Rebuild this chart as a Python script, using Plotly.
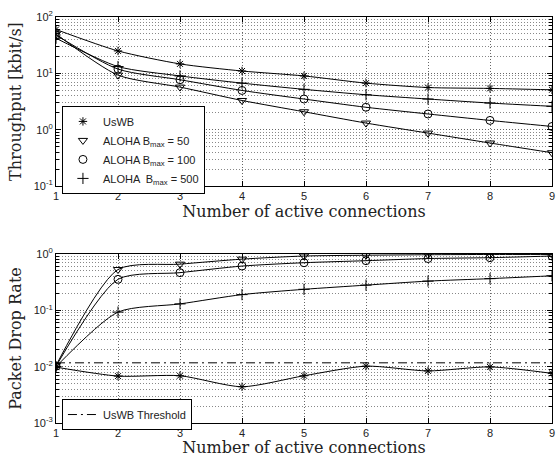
import plotly.graph_objects as go

connections = [1, 2, 3, 4, 5, 6, 7, 8, 9]

# Throughput [kbit/s]
thr_uswb = [60, 25, 14.7, 11, 9.0, 6.7, 5.6, 5.4, 5.1]
thr_aloha50 = [50, 9.3, 5.7, 3.3, 2.08, 1.31, 0.87, 0.58, 0.39]
thr_aloha100 = [48, 11.9, 7.7, 4.97, 3.5, 2.5, 1.9, 1.46, 1.14]
thr_aloha500 = [42, 13.2, 9.0, 6.7, 5.2, 4.17, 3.5, 2.97, 2.6]

# Packet drop rate
pdr_uswb = [0.0098, 0.0068, 0.0069, 0.0044, 0.0069, 0.0102, 0.0084, 0.0099, 0.0076]
pdr_aloha50 = [0.0105, 0.53, 0.66, 0.81, 0.92, 0.95, 0.97, 0.98, 0.98]
pdr_aloha100 = [0.0102, 0.355, 0.466, 0.61, 0.70, 0.76, 0.83, 0.86, 0.92]
pdr_aloha500 = [0.0100, 0.093, 0.13, 0.19, 0.236, 0.28, 0.33, 0.365, 0.41]
uswb_threshold = 0.0117

names = ["UsWB", "ALOHA B<sub>max</sub> = 50", "ALOHA B<sub>max</sub> = 100", "ALOHA  B<sub>max</sub> = 500"]
symbols = ["asterisk-open", "triangle-down-open", "circle-open", "cross-thin-open"]
sizes = [7, 8, 8, 8]

top_tickvals = [0.1, 1, 10, 100]
top_ticktext = ["10<sup>-1</sup>", "10<sup>0</sup>", "10<sup>1</sup>", "10<sup>2</sup>"]
bot_tickvals = [0.001, 0.01, 0.1, 1]
bot_ticktext = ["10<sup>-3</sup>", "10<sup>-2</sup>", "10<sup>-1</sup>", "10<sup>0</sup>"]

TXT = "#222"
fig = go.Figure()

def add_series(x, y, name, sym, size, xa, ya, legend, showleg):
    fig.add_trace(go.Scatter(x=x, y=y, mode="lines", line=dict(color="black", width=1, shape="spline", smoothing=0.7),
                             xaxis=xa, yaxis=ya, showlegend=False, hoverinfo="skip"))
    fig.add_trace(go.Scatter(x=x, y=y, mode="markers", name=name,
                             marker=dict(symbol=sym, size=size, color="black", line=dict(color="black", width=1)),
                             xaxis=xa, yaxis=ya, showlegend=showleg, legend=legend))

top = [thr_uswb, thr_aloha50, thr_aloha100, thr_aloha500]
bot = [pdr_uswb, pdr_aloha50, pdr_aloha100, pdr_aloha500]
for i in range(4):
    add_series(connections, top[i], names[i], symbols[i], sizes[i], "x", "y", "legend", True)
for i in range(4):
    add_series(connections, bot[i], names[i], symbols[i], sizes[i], "x2", "y2", "legend2", False)

fig.add_trace(go.Scatter(x=[connections[0], connections[-1]], y=[uswb_threshold, uswb_threshold], mode="lines",
                         name="UsWB Threshold", line=dict(color="black", width=1, dash="9px,4px,2px,4px"),
                         xaxis="x2", yaxis="y2", legend="legend2"))

DOT = "1px,2px"
xcommon = dict(range=[1, 9], dtick=1, tick0=1, ticks="inside", ticklen=5, tickcolor="black",
               showline=True, linecolor="black", linewidth=1, mirror="allticks", zeroline=False,
               showgrid=True, gridcolor="#666", griddash=DOT, gridwidth=1, ticklabeloverflow="allow",
               tickfont=dict(family="Liberation Sans", size=11, color=TXT))

def ycommon(tv, tt):
    minor_vals = [m * v for v in tv[:-1] for m in range(2, 10)]
    return dict(type="log", tickmode="array", tickvals=tv, ticktext=tt, ticks="inside", ticklen=5, tickcolor="black",
                showline=True, linecolor="black", linewidth=1, mirror="allticks", zeroline=False,
                showgrid=True, gridcolor="#666", griddash=DOT, gridwidth=1, ticklabeloverflow="allow",
                tickfont=dict(family="Liberation Sans", size=11, color=TXT),
                minor=dict(tickmode="array", tickvals=minor_vals, showgrid=True, gridcolor="#888", griddash=DOT,
                           ticks="inside", ticklen=3, tickcolor="black"))

titlefont = dict(family="DejaVu Serif", size=16, color=TXT)

fig.update_layout(
    width=558, height=457,
    margin=dict(l=56, r=3, t=17, b=34),
    paper_bgcolor="white", plot_bgcolor="white",
    xaxis=dict(domain=[0, 1], anchor="y", title=dict(text="Number of active connections", font=titlefont, standoff=1), **xcommon),
    yaxis=dict(domain=[0.5837, 1], anchor="x", range=[-1, 2], title=dict(text="Throughput [kbit/s]", font=titlefont, standoff=8),
               **ycommon(top_tickvals, top_ticktext)),
    xaxis2=dict(domain=[0, 1], anchor="y2", title=dict(text="Number of active connections", font=titlefont, standoff=1), **xcommon),
    yaxis2=dict(domain=[0, 0.4163], anchor="x2", range=[-3, 0], title=dict(text="Packet Drop Rate", font=titlefont, standoff=8),
                **ycommon(bot_tickvals, bot_ticktext)),
    legend=dict(x=0.012, y=0.781, xanchor="left", yanchor="top", bgcolor="white", bordercolor="black", borderwidth=1,
                font=dict(family="Liberation Sans", size=11, color=TXT), tracegroupgap=0),
    legend2=dict(x=0.012, y=0.059, xanchor="left", yanchor="top", bgcolor="white", bordercolor="black", borderwidth=1,
                 font=dict(family="Liberation Sans", size=11, color=TXT)),
)

fig.write_html("out.html", config={"displayModeBar": False},
               post_script="document.body.style.margin='0';document.body.style.overflow='hidden';")
